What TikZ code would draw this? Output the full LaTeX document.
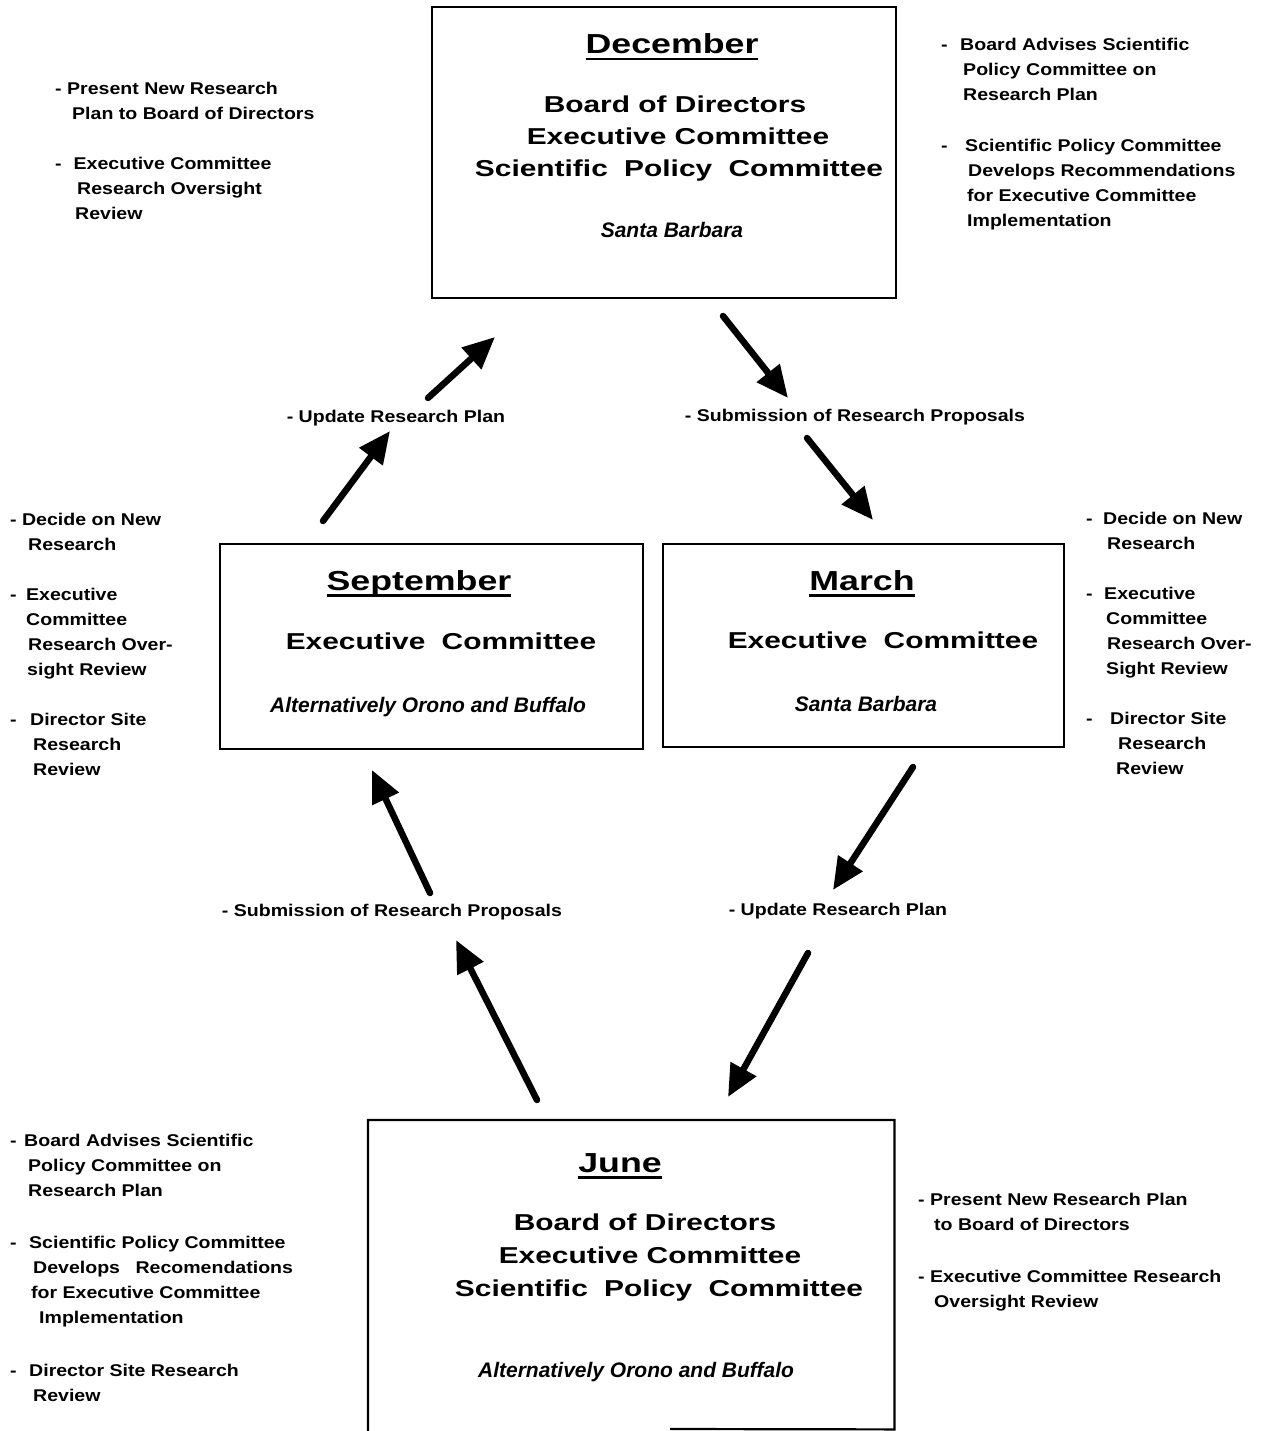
\documentclass[tikz,border=0pt]{standalone}
\usepackage{fontspec}
\setmainfont{Liberation Sans}
\newfontfamily\notefamily[FakeStretch=1.15]{Liberation Sans}
\newfontfamily\boxfamily[FakeStretch=1.3]{Liberation Sans}
\usetikzlibrary{arrows.meta}
\newcommand\titleul[1]{\setbox0\hbox{#1}\rlap{\usebox0}\rule[-6.5pt]{\wd0}{2.6pt}}
\tikzset{
  frame/.style={draw, line width=2.2pt, inner sep=0pt, anchor=north west},
  note/.style={font=\notefamily\bfseries\fontsize{17}{25}\selectfont, align=left, inner sep=0pt, anchor=north west},
  lbl/.style={font=\notefamily\bfseries\fontsize{17}{25}\selectfont, inner sep=0pt, anchor=base},
  boxtxt/.style={font=\boxfamily\bfseries\fontsize{23}{28}\selectfont, inner sep=0pt, anchor=base},
  ttl/.style={font=\boxfamily\bfseries\fontsize{27.5}{33}\selectfont, inner sep=0pt, anchor=base},
  place/.style={font=\bfseries\itshape\fontsize{21}{25}\selectfont, inner sep=0pt, anchor=base},
  flow/.style={line width=6.5pt, line cap=round, -{Triangle[length=32pt,width=28pt]}},
}
\begin{document}
\begin{tikzpicture}[x=1pt,y=-1pt]
\useasboundingbox (0,0) rectangle (1265,1431);

% ---------- boxes ----------
\node[frame, minimum width=464pt, minimum height=291pt] (dec) at (431,6) {};
\node[frame, minimum width=423pt, minimum height=205pt] (sep) at (219,543) {};
\node[frame, minimum width=401pt, minimum height=203pt] (mar) at (662,543) {};
\node[inner sep=0pt, anchor=north west, minimum width=526pt, minimum height=309pt] (jun) at (368,1120) {};
\coordinate (junbl) at (368,1431);
\coordinate (junbr) at (670,1429);
\draw[line width=2.2pt] (junbl) -- (jun.north west) -- (jun.north east) -- (jun.south east) -- (junbr);

% ---------- December ----------
\node[ttl] (decT) at (672,54) {\titleul{December}};
\node[boxtxt] (decA) at (675,113) {Board of Directors};
\node[boxtxt] (decB) at (678,145) {Executive Committee};
\node[boxtxt] (decC) at (679,177) {Scientific\hspace{8pt} Policy\hspace{8pt} Committee};
\node[place] (decP) at (672,238) {Santa Barbara};

% ---------- September ----------
\node[ttl] (sepT) at (419,590) {\titleul{September}};
\node[boxtxt] (sepB) at (441,649) {Executive\hspace{8pt} Committee};
\node[place] (sepP) at (428,712) {Alternatively Orono and Buffalo};

% ---------- March ----------
\node[ttl] (marT) at (862,590) {\titleul{March}};
\node[boxtxt] (marB) at (883,648) {Executive\hspace{8pt} Committee};
\node[place] (marP) at (866,711) {Santa Barbara};

% ---------- June ----------
\node[ttl] (junT) at (620,1172) {\titleul{June}};
\node[boxtxt] (junA) at (645,1230) {Board of Directors};
\node[boxtxt] (junB) at (650,1263) {Executive Committee};
\node[boxtxt] (junC) at (659,1296) {Scientific\hspace{8pt} Policy\hspace{8pt} Committee};
\node[place] (junP) at (636,1377) {Alternatively Orono and Buffalo};

% ---------- notes ----------
\node[note] (tl1) at (55,81.5) {- Present New Research\\\hspace*{17pt}Plan to Board of Directors};
\node[note] (tl2) at (55,156.5) {-\hspace{12pt}Executive Committee\\\hspace*{22pt}Research Oversight\\\hspace*{20pt}Review};

\node[note] (tr1) at (941,37.5) {-\hspace{12.5pt}Board Advises Scientific\\\hspace*{22pt}Policy Committee on\\\hspace*{22pt}Research Plan};
\node[note] (tr2) at (941,138.5) {-\hspace{17.5pt}Scientific Policy Committee\\\hspace*{27pt}Develops Recommendations\\\hspace*{26pt}for Executive Committee\\\hspace*{26pt}Implementation};

\node[note] (ml1) at (10,512.5) {- Decide on New\\\hspace*{18pt}Research};
\node[note] (ml2) at (10,587.5) {-\hspace{9.5pt}Executive\\\hspace*{16pt}Committee\\\hspace*{18pt}Research Over-\\\hspace*{17pt}sight Review};
\node[note] (ml3) at (10,712.5) {-\hspace{13.5pt}Director Site\\\hspace*{23pt}Research\\\hspace*{23pt}Review};

\node[note] (mr1) at (1086,511.5) {-\hspace{10.5pt}Decide on New\\\hspace*{21pt}Research};
\node[note] (mr2) at (1086,586.5) {-\hspace{11.5pt}Executive\\\hspace*{20pt}Committee\\\hspace*{21pt}Research Over-\\\hspace*{20pt}Sight Review};
\node[note] (mr3) at (1086,711.5) {-\hspace{17.5pt}Director Site\\\hspace*{32pt}Research\\\hspace*{30pt}Review};

\node[note] (bl1) at (10,1133.5) {-\hspace{7.5pt}Board Advises Scientific\\\hspace*{18pt}Policy Committee on\\\hspace*{18pt}Research Plan};
\node[note] (bl2) at (10,1235.5) {-\hspace{12.5pt}Scientific Policy Committee\\\hspace*{23pt}Develops\hspace{10pt} Recomendations\\\hspace*{21pt}for Executive Committee\\\hspace*{29pt}Implementation};
\node[note] (bl3) at (10,1363.5) {-\hspace{12.5pt}Director Site Research\\\hspace*{23pt}Review};

\node[note] (br1) at (918,1192.5) {- Present New Research Plan\\\hspace*{16pt}to Board of Directors};
\node[note] (br2) at (918,1269.5) {- Executive Committee Research\\\hspace*{16pt}Oversight Review};

% ---------- arrow labels ----------
\node[lbl] (l1) at (396,422) {- Update Research Plan};
\node[lbl] (l2) at (855,421) {- Submission of Research Proposals};
\node[lbl] (l3) at (392,916) {- Submission of Research Proposals};
\node[lbl] (l4) at (838,915) {- Update Research Plan};

% ---------- arrows ----------
\coordinate (a1s) at (323,521); \coordinate (a1e) at (390,431);
\coordinate (a2s) at (428,398); \coordinate (a2e) at (495,337);
\coordinate (a3s) at (723,316); \coordinate (a3e) at (788,398);
\coordinate (a4s) at (807,438); \coordinate (a4e) at (873,520);
\coordinate (a5s) at (913,767); \coordinate (a5e) at (833,890);
\coordinate (a6s) at (808,953); \coordinate (a6e) at (728,1097);
\coordinate (a7s) at (537,1100); \coordinate (a7e) at (456,940);
\coordinate (a8s) at (430,893); \coordinate (a8e) at (372,770);
\draw[flow] (a1s) -- (a1e);
\draw[flow] (a2s) -- (a2e);
\draw[flow] (a3s) -- (a3e);
\draw[flow] (a4s) -- (a4e);
\draw[flow] (a5s) -- (a5e);
\draw[flow] (a6s) -- (a6e);
\draw[flow] (a7s) -- (a7e);
\draw[flow] (a8s) -- (a8e);
\end{tikzpicture}
\end{document}
